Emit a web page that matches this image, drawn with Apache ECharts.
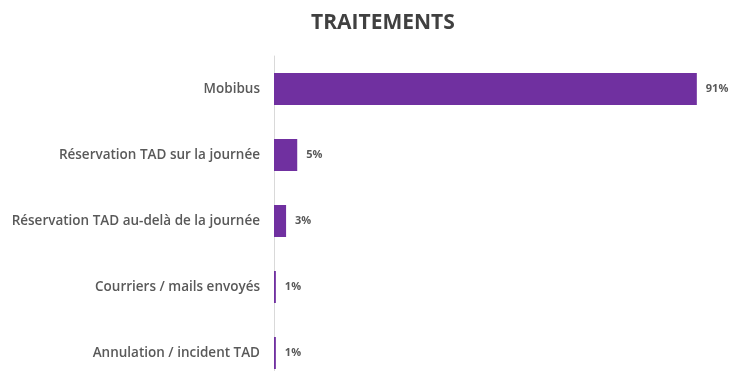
<!DOCTYPE html>
<html><head><meta charset="utf-8">
<script src="https://cdn.jsdelivr.net/npm/echarts@6/dist/echarts.min.js"></script>
<style>html,body{margin:0;padding:0;background:#fff;overflow:hidden}#c{width:734px;height:386px}</style>
</head><body><div id="c"></div>
<script>
const categories = ["Mobibus","Réservation TAD sur la journée","Réservation TAD au-delà de la journée","Courriers / mails envoyés","Annulation / incident TAD"];
const values = [91, 5, 2.6, 0.4, 0.4];
const valueLabels = ["91%","5%","3%","1%","1%"];

const chart = echarts.init(document.getElementById('c'));
chart.setOption({
  animation:false,
  backgroundColor:'#fff',
  title:{text:'TRAITEMENTS',left:306,top:8,textStyle:{fontFamily:'Open Sans',fontWeight:'bold',fontSize:21,color:'#404040'}},
  grid:{left:274,right:0,top:56,bottom:0,containLabel:false},
  xAxis:{type:'value',min:0,max:99,show:false},
  yAxis:{type:'category',data:categories,inverse:true,
    axisLine:{show:true,lineStyle:{color:'#d9d9d9',width:1}},
    axisTick:{show:false},
    axisLabel:{margin:14,fontFamily:'Open Sans',fontSize:13.5,fontWeight:600,color:'#595959'}},
  series:[{type:'bar',data:values,barWidth:32,itemStyle:{color:'#7030A0'},
    label:{show:true,position:'right',distance:9,fontFamily:'Open Sans',fontSize:11,fontWeight:'bold',color:'#595959',
      formatter:p=>valueLabels[p.dataIndex]}}]
});
</script></body></html>
